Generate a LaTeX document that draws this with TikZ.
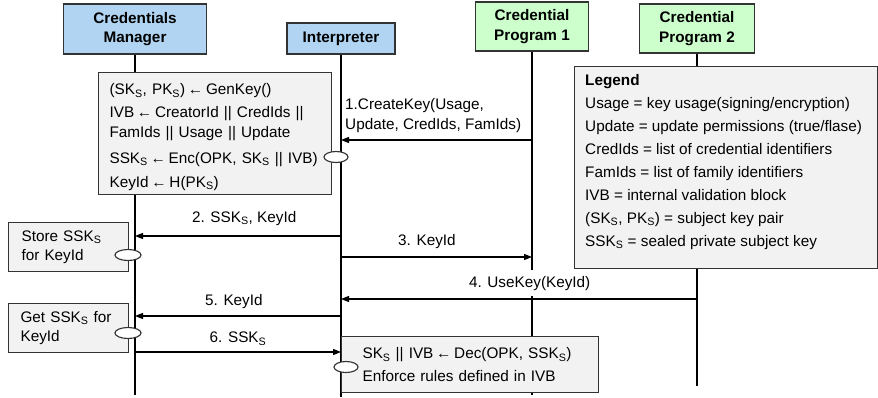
\documentclass[tikz,border=0pt]{standalone}
\usepackage{fontspec}
\setmainfont{Liberation Sans}
\usetikzlibrary{arrows.meta}

\definecolor{mgrblue}{HTML}{B0D4F1}
\definecolor{prggreen}{HTML}{CCFFCC}
\definecolor{notegray}{HTML}{F2F2F2}
\definecolor{rim}{HTML}{333333}

\newcommand{\subS}{\textsubscript{S}}
\newcommand{\getsto}{\hspace{0.18em}←\hspace{0.18em}}

\tikzset{
  txt/.style={font=\fontsize{15.3}{19.5}\selectfont},
  head/.style={draw=rim, line width=0.45mm, align=center, inner sep=0pt,
    font=\bfseries\fontsize{15.3}{19.5}\selectfont},
  note/.style={txt, draw=rim, fill=notegray, line width=0.4mm, anchor=north west, align=left, inner ysep=0pt},
  life/.style={line width=0.55mm},
  msg/.style={line width=0.4mm, -{Triangle[length=8pt,width=6pt]}},
  lbl/.style={txt, fill=white, inner ysep=6pt, inner xsep=2pt},
  oval/.style={draw=rim, fill=white, line width=0.4mm}
}

\begin{document}
\begin{tikzpicture}[x=1pt,y=-1pt]
			\useasboundingbox (0,0) rectangle (878,397);
			%%%%% HEADS %%%%%
			\node[head, fill=mgrblue, minimum width=143pt, minimum height=50pt] (cm) at (135,29) {Credentials\\Manager};
			\node[head, fill=mgrblue, minimum width=108pt, minimum height=31pt] (int) at (341,38.5) {Interpreter};
			\node[head, fill=prggreen, minimum width=113pt, minimum height=49pt] (cpa) at (532,26.5) {Credential\\Program 1};
			\node[head, fill=prggreen, minimum width=115pt, minimum height=49pt] (cpb) at (697,28.5) {Credential\\Program 2};
			
			%%%%% LIFELINES %%%%%
			\draw[life] (cm.south) -- (cm.south |- 0,395);
			\draw[life] (int.south) -- (int.south |- 0,397);
			\draw[life] (cpa.south) -- (cpa.south |- 0,395);
			\draw[life] (cpb.south) -- (cpb.south |- 0,386);
			
			%%%%% BOXES %%%%%
			\node[note, minimum width=233pt, minimum height=122pt, inner xsep=11pt, text width=211pt] (gen) at (98,72)
			{\mbox{\rule{0pt}{18pt}(SK\subS, PK\subS)\getsto GenKey()}\\[3.5pt]
			\mbox{IVB\getsto CreatorId || CredIds ||}\\
			\mbox{FamIds || Usage || Update}\\[6.5pt]
			\mbox{SSK\subS\getsto Enc(OPK, SK\subS{} || IVB)}\\[4.5pt]
			\mbox{KeyId\getsto H(PK\subS)}};
			
			\node[note, minimum width=303pt, minimum height=202pt] (legend) at (574,66) {};
			\node[txt, font=\fontsize{15.3}{23}\selectfont, anchor=north west, align=left, inner sep=0pt] (legtext)
			at ([xshift=11pt, yshift=-8pt]legend.north west)
			{\textbf{Legend}\\
			Usage = key usage(signing/encryption)\\
			Update = update permissions (true/flase)\\
			CredIds = list of credential identifiers\\
			FamIds = list of family identifiers\\
			IVB = internal validation block\\
			(SK\subS, PK\subS) = subject key pair\\
			SSK\subS{} = sealed private subject key};
			
			\node[note, minimum width=120pt, minimum height=49pt, inner xsep=13pt, text width=94pt] (store) at (8,222) {Store SSK\subS\\for KeyId};
			\node[note, minimum width=120pt, minimum height=49pt, inner xsep=12pt, text width=96pt] (get) at (8,303) {Get SSK\subS{} for\\KeyId};
			\node[note, minimum width=257pt, minimum height=56pt, inner xsep=21pt, text width=215pt] (dec) at (341,336)
			{SK\subS{} || IVB\getsto Dec(OPK, SSK\subS)\\[3.5pt]
			Enforce rules defined in IVB};
			
			%%%%% OVALS %%%%%
			\draw[oval] (336,157) ellipse [x radius=12pt, y radius=5.5pt];
			\draw[oval] (128,255) ellipse [x radius=13pt, y radius=5.5pt];
			\draw[oval] (128,333) ellipse [x radius=13pt, y radius=5.5pt];
			\draw[oval] (346,367) ellipse [x radius=12pt, y radius=5.5pt];
			
			%%%%% MESSAGES %%%%%
			\node[txt, align=left, anchor=west, inner sep=0pt] (lcreate) at (345,115.5) {1.CreateKey(Usage,\\Update, CredIds, FamIds)};
			\draw[msg] (cpa |- 0,140) -- (int |- 0,140);
			\draw[msg] (int |- 0,236) -- node[lbl, above=4pt, pos=0.47] (lsealed) {2. SSK\subS, KeyId} (cm |- 0,236);
			\draw[msg] (int |- 0,257) -- node[lbl, above=2pt, pos=0.45] (lkeyid) {3. KeyId} (cpa |- 0,257);
			\draw[msg] (cpb |- 0,299) -- node[lbl, above=2pt, pos=0.47] (luse) {4. UseKey(KeyId)} (int |- 0,299);
			\draw[msg] (int |- 0,316) -- node[lbl, above=1pt, pos=0.52] (lget) {5. KeyId} (cm |- 0,316);
			\draw[msg] (cm |- 0,352) -- node[lbl, above=0pt, pos=0.5] (lback) {6. SSK\subS} (int |- 0,352);
			
\end{tikzpicture}
\end{document}
